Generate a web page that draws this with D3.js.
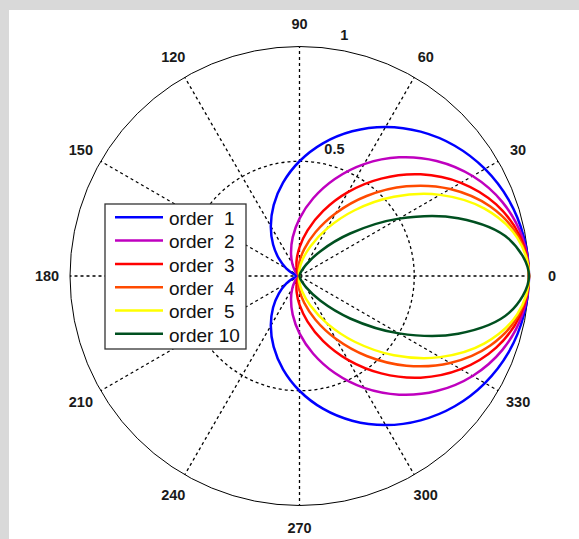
<!DOCTYPE html>
<html>
<head>
<meta charset="utf-8">
<script src="https://cdn.jsdelivr.net/npm/d3@7"></script>
<style>
  body { margin: 0; background: #d9d9d9; }
  text { font-family: "Liberation Sans", Arial, sans-serif; }
</style>
</head>
<body>
<div id="chart"></div>
<script>
var angles = [0, 10, 20, 30, 40, 50, 60, 70, 80, 90, 100, 110, 120, 130, 140, 150, 160, 170,
              180, 190, 200, 210, 220, 230, 240, 250, 260, 270, 280, 290, 300, 310, 320, 330, 340, 350];

var order1 = [1, 0.992, 0.970, 0.933, 0.883, 0.821, 0.750, 0.671, 0.587, 0.500, 0.413, 0.329, 0.250, 0.179, 0.117, 0.067, 0.030, 0.008,
              0, 0.008, 0.030, 0.067, 0.117, 0.179, 0.250, 0.329, 0.413, 0.500, 0.587, 0.671, 0.750, 0.821, 0.883, 0.933, 0.970, 0.992];
var order2 = [1, 0.985, 0.941, 0.871, 0.780, 0.675, 0.563, 0.450, 0.344, 0.250, 0.171, 0.108, 0.063, 0.032, 0.014, 0.004, 0.001, 0,
              0, 0, 0.001, 0.004, 0.014, 0.032, 0.063, 0.108, 0.171, 0.250, 0.344, 0.450, 0.563, 0.675, 0.780, 0.871, 0.941, 0.985];
var order3 = [1, 0.977, 0.912, 0.812, 0.689, 0.554, 0.422, 0.302, 0.202, 0.125, 0.071, 0.036, 0.016, 0.006, 0.002, 0, 0, 0,
              0, 0, 0, 0, 0.002, 0.006, 0.016, 0.036, 0.071, 0.125, 0.202, 0.302, 0.422, 0.554, 0.689, 0.812, 0.912, 0.977];
var order4 = [1, 0.970, 0.885, 0.758, 0.608, 0.455, 0.316, 0.203, 0.119, 0.063, 0.029, 0.012, 0.004, 0.001, 0, 0, 0, 0,
              0, 0, 0, 0, 0, 0.001, 0.004, 0.012, 0.029, 0.063, 0.119, 0.203, 0.316, 0.455, 0.608, 0.758, 0.885, 0.970];
var order5 = [1, 0.963, 0.858, 0.707, 0.537, 0.374, 0.237, 0.136, 0.070, 0.031, 0.012, 0.004, 0.001, 0, 0, 0, 0, 0,
              0, 0, 0, 0, 0, 0, 0.001, 0.004, 0.012, 0.031, 0.070, 0.136, 0.237, 0.374, 0.537, 0.707, 0.858, 0.963];
var order10 = [1, 0.927, 0.736, 0.500, 0.288, 0.140, 0.056, 0.019, 0.005, 0.001, 0, 0, 0, 0, 0, 0, 0, 0,
               0, 0, 0, 0, 0, 0, 0, 0, 0, 0.001, 0.005, 0.019, 0.056, 0.140, 0.288, 0.500, 0.736, 0.927];

var seriesNames = ["order  1", "order  2", "order  3", "order  4", "order  5", "order 10"];
var seriesColors = ["#0000ff", "#bf00bf", "#ff0000", "#ff4a00", "#ffff00", "#005020"];

var angleTicks = [0, 30, 60, 90, 120, 150, 180, 210, 240, 270, 300, 330];
var radialTicks = [0.5, 1];

var W = 579, H = 539;
var cx = 299.5, cy = 276, R = 229.5;

var svg = d3.select("#chart").append("svg")
    .attr("width", W)
    .attr("height", H);

// grey frame + white figure area
svg.append("rect").attr("width", W).attr("height", H).attr("fill", "#d9d9d9");
svg.append("rect").attr("x", 9).attr("y", 10).attr("width", W - 9).attr("height", H - 10).attr("fill", "#ffffff");

var g = svg.append("g").attr("transform", "translate(" + cx + "," + cy + ")");

var r = d3.scaleLinear().domain([0, 1]).range([0, R]);
// math angle (ccw from +x, degrees) -> d3 radial angle (cw from up, radians)
var a = d3.scaleLinear().domain([0, 360]).range([Math.PI / 2, Math.PI / 2 - 2 * Math.PI]);

function px(deg, rad) { return r(rad) * Math.cos(deg * Math.PI / 180); }
function py(deg, rad) { return -r(rad) * Math.sin(deg * Math.PI / 180); }

// outer circle solid, inner rings dashed
g.selectAll(".ring")
  .data(radialTicks)
  .enter().append("circle")
    .attr("r", function(d) { return r(d); })
    .attr("fill", "none")
    .attr("stroke", "#000")
    .attr("stroke-width", function(d) { return d === 1 ? 1 : 1.3; })
    .attr("stroke-dasharray", function(d) { return d === 1 ? null : "3,3"; });

// spokes
g.selectAll(".spoke")
  .data(angleTicks)
  .enter().append("line")
    .attr("x1", 0).attr("y1", 0)
    .attr("x2", function(d) { return px(d, 1); })
    .attr("y2", function(d) { return py(d, 1); })
    .attr("stroke", "#000")
    .attr("stroke-width", 1.3)
    .attr("stroke-dasharray", "3,3");

// angle labels
g.selectAll(".alabel")
  .data(angleTicks)
  .enter().append("text")
    .attr("x", function(d) { return px(d, 1.1); })
    .attr("y", function(d) { return py(d, 1.1); })
    .attr("text-anchor", "middle")
    .attr("dominant-baseline", "central")
    .attr("font-size", "14.5px")
    .attr("font-weight", "bold")
    .attr("fill", "#1a1a1a")
    .text(function(d) { return d; });

// radial labels at 82 degrees
g.selectAll(".rlabel")
  .data(radialTicks)
  .enter().append("text")
    .attr("x", function(d) { return px(82, d + 0.025); })
    .attr("y", function(d) { return py(82, d + 0.025) - 3; })
    .attr("font-size", "14.5px")
    .attr("font-weight", "bold")
    .attr("fill", "#1a1a1a")
    .style("white-space", "pre")
    .text(function(d) { return "  " + d; });

// curves
var series = [order1, order2, order3, order4, order5, order10];
var line = d3.lineRadial()
    .angle(function(d, i) { return a(angles[i]); })
    .radius(function(d) { return r(d); })
    .curve(d3.curveCatmullRomClosed.alpha(0.5));

g.selectAll(".curve")
  .data(series)
  .enter().append("path")
    .attr("d", function(d) { return line(d); })
    .attr("fill", "none")
    .attr("stroke", function(d, i) { return seriesColors[i]; })
    .attr("stroke-width", 2.5)
    .attr("stroke-linejoin", "round");

// legend
var lx = 105, ly = 204, lw = 141, lh = 145, rowH = 23.3, row0 = 217.3;
var legend = svg.append("g");
legend.append("rect")
    .attr("x", lx).attr("y", ly)
    .attr("width", lw).attr("height", lh)
    .attr("fill", "#fff")
    .attr("stroke", "#333")
    .attr("stroke-width", 1.3);

var items = legend.selectAll(".item")
  .data(seriesNames)
  .enter().append("g")
    .attr("transform", function(d, i) { return "translate(0," + (row0 + i * rowH) + ")"; });

items.append("line")
    .attr("x1", 115).attr("x2", 163)
    .attr("y1", 0).attr("y2", 0)
    .attr("stroke", function(d, i) { return seriesColors[i]; })
    .attr("stroke-width", 2.5);

items.append("text")
    .attr("x", 169)
    .attr("y", 7.7)
    .attr("font-size", "19px")
    .attr("fill", "#111")
    .style("white-space", "pre")
    .text(function(d) { return d; });
</script>
</body>
</html>
